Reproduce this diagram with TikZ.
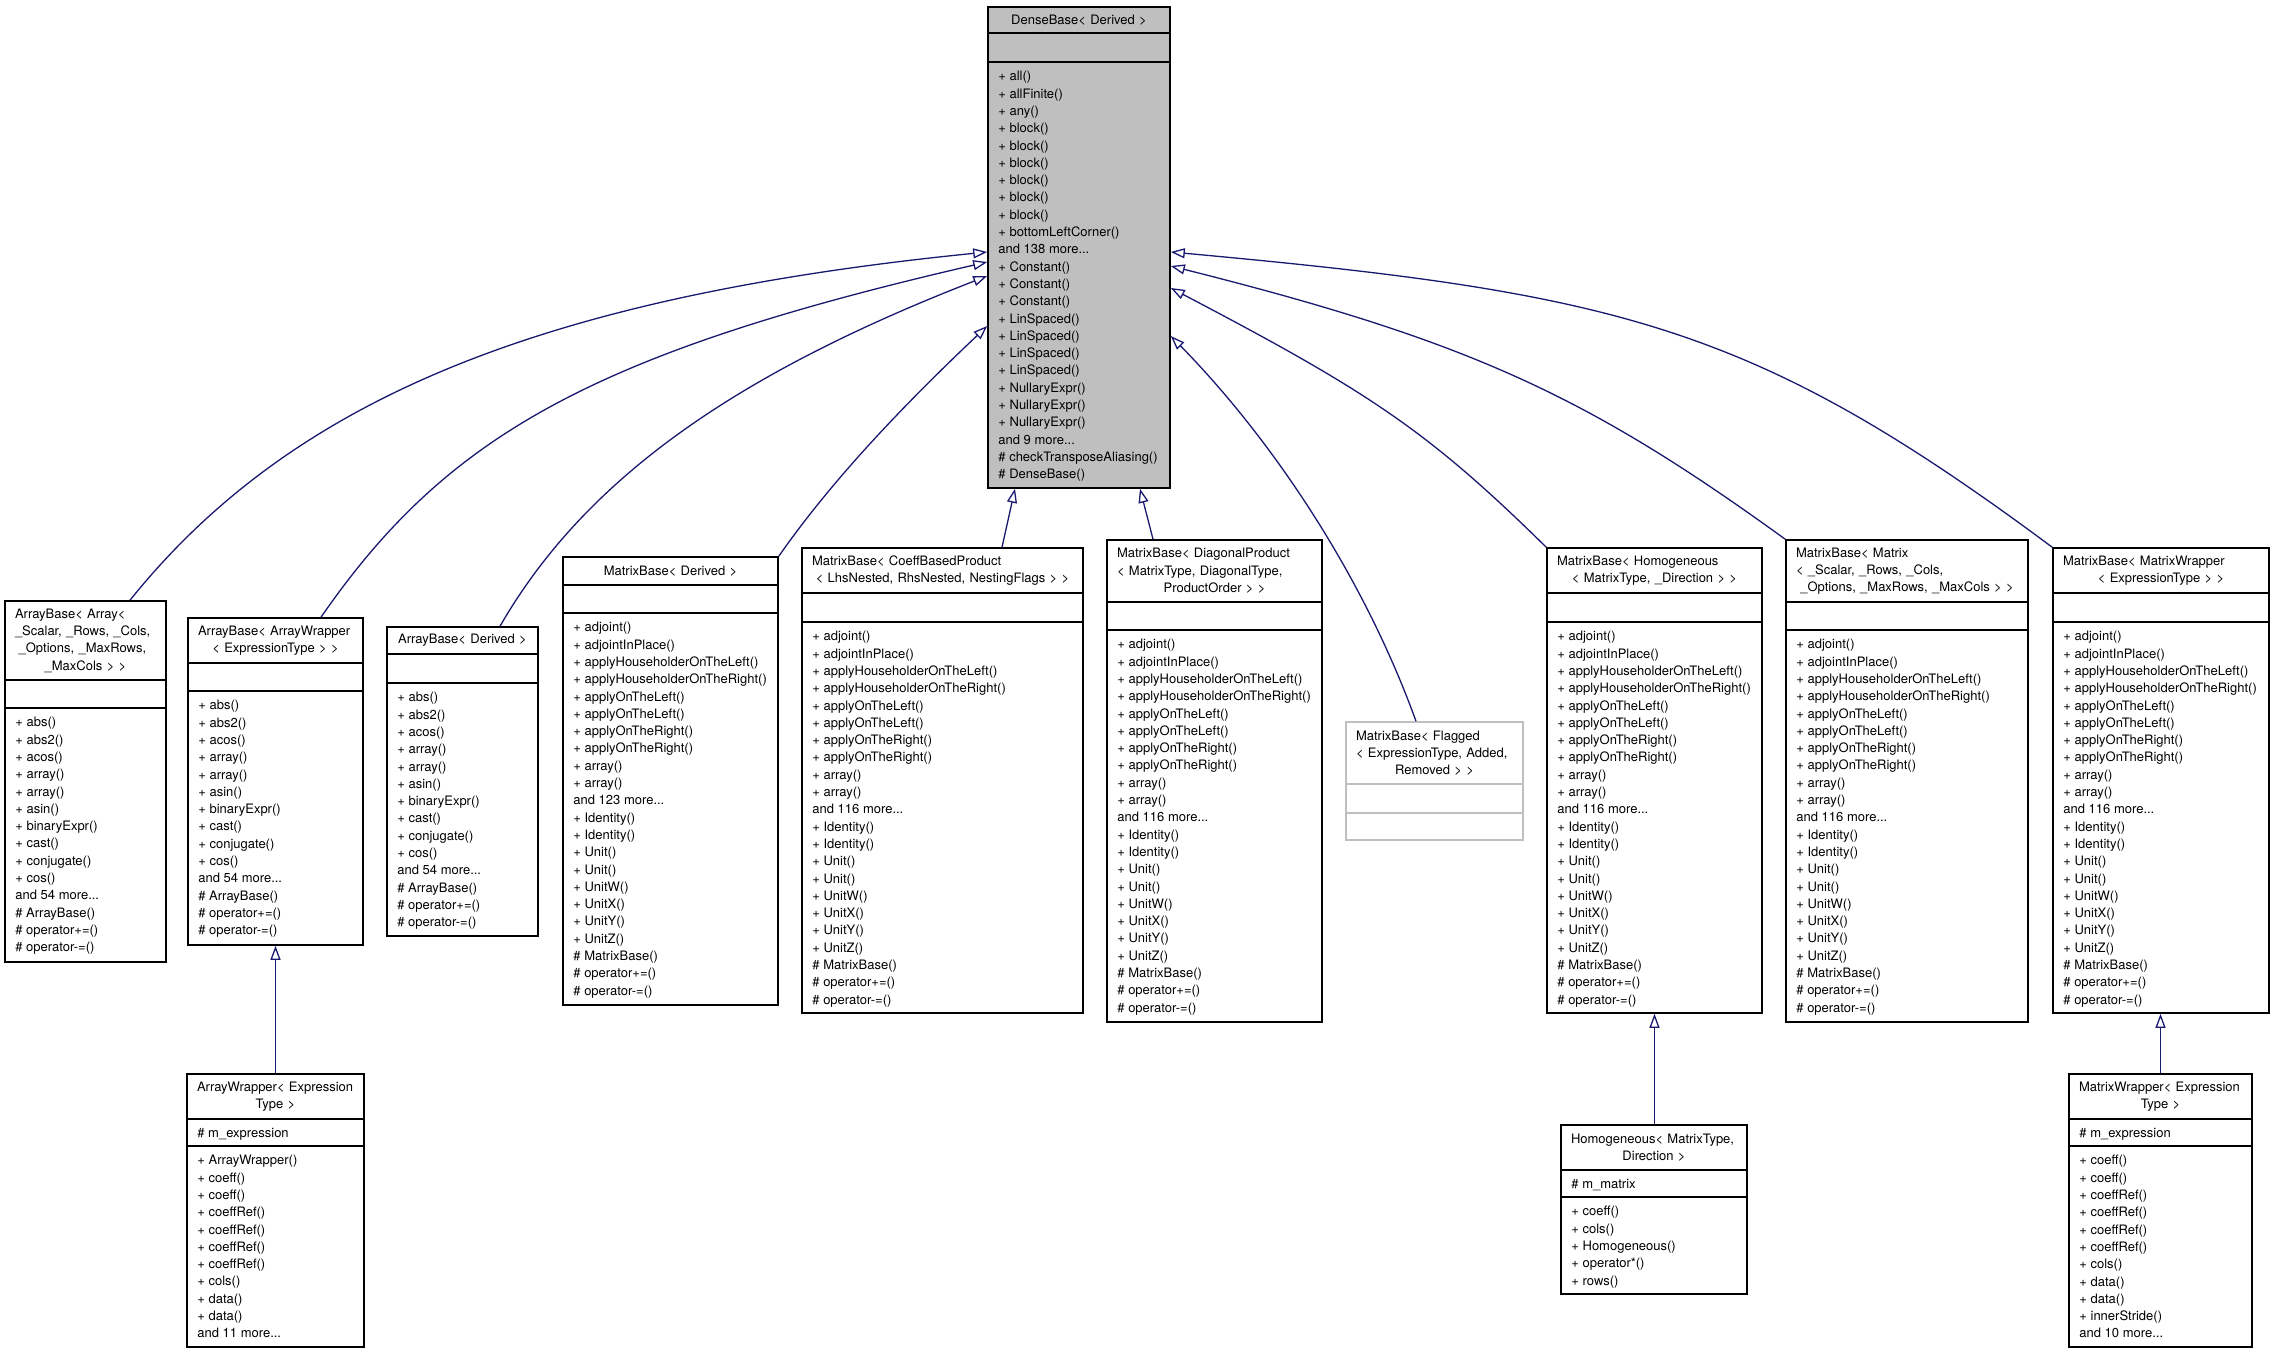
\documentclass[tikz,border=0pt]{standalone}
\usepackage{fontspec}
\setmainfont{TeX Gyre Heros}
\usetikzlibrary{fit,arrows.meta}
\definecolor{edgeblue}{HTML}{191970}
\definecolor{boxgray}{HTML}{BFBFBF}
\newcommand\ctrline[1]{\hspace*{\fill}\mbox{#1}\hspace*{\fill}\null}
\newcommand\arraymembers{+ abs()\\+ abs2()\\+ acos()\\+ array()\\+ array()\\+ asin()\\+ binaryExpr()\\+ cast()\\+ conjugate()\\+ cos()\\and 54 more...\\\# ArrayBase()\\\# operator+=()\\\# operator-=()}
\newcommand\matrixmembers[1]{+ adjoint()\\+ adjointInPlace()\\+ applyHouseholderOnTheLeft()\\+ applyHouseholderOnTheRight()\\+ applyOnTheLeft()\\+ applyOnTheLeft()\\+ applyOnTheRight()\\+ applyOnTheRight()\\+ array()\\+ array()\\and #1 more...\\+ Identity()\\+ Identity()\\+ Unit()\\+ Unit()\\+ UnitW()\\+ UnitX()\\+ UnitY()\\+ UnitZ()\\\# MatrixBase()\\\# operator+=()\\\# operator-=()}
\tikzset{
  cls/.style={},
  frame/.style={draw=black, line width=0.8pt, inner sep=0pt, rectangle},
  divider/.style={draw=black, line width=0.8pt},
  txt/.style={inner sep=0pt, font=\fontsize{6.5pt}{8.65pt}\selectfont},
  ttl/.style={txt, align=left, anchor=center},
  mem/.style={txt, align=left, anchor=north west},
  inh/.style={draw=edgeblue, line width=0.65pt, -{Triangle[open, length=7pt, width=5pt, fill=white]}}
}
% #1 name, #2 left, #3 right, #4 top, #5 div1, #6 div2, #7 bottom, #8 title, #9 members
\newcommand\umlclass[9]{%
  \node[frame, cls, fit={(#2,#4)(#3,#7)}] (#1) {};
  \draw[divider, cls] (#2,#5) -- (#3,#5);
  \draw[divider, cls] (#2,#6) -- (#3,#6);
  \pgfmathsetmacro\tw{(#3-#2-20)*0.5}%
  \node[ttl, text width=\tw pt] (#1-t) at ({(#2+#3)/2},{(#4+#5)/2}) {#8};
  \node[mem] (#1-m) at ({#2+10},{#6+9}) {\vphantom{()}#9};
}
\begin{document}
\begin{tikzpicture}[x=0.5pt,y=-0.5pt]
\fill[white] (0,0) rectangle (2275,1355);
\useasboundingbox (0,0) rectangle (2275,1355);

\tikzset{cls/.style={fill=boxgray}}
\umlclass{dense}{988}{1170}{7}{33}{62}{488}{\ctrline{DenseBase< Derived >}}%
{+ all()\\+ allFinite()\\+ any()\\+ block()\\+ block()\\+ block()\\+ block()\\+ block()\\+ block()\\+ bottomLeftCorner()\\and 138 more...\\+ Constant()\\+ Constant()\\+ Constant()\\+ LinSpaced()\\+ LinSpaced()\\+ LinSpaced()\\+ LinSpaced()\\+ NullaryExpr()\\+ NullaryExpr()\\+ NullaryExpr()\\and 9 more...\\\# checkTransposeAliasing()\\\# DenseBase()}
\tikzset{cls/.style={}}

\umlclass{aba}{5}{166}{601}{680}{708}{962}{ArrayBase< Array<\\\_Scalar, \_Rows, \_Cols,\\\hspace*{.28em}\_Options, \_MaxRows,\\\ctrline{\_MaxCols > >}}{\arraymembers}
\umlclass{abw}{188}{363}{618}{663}{691}{945}{ArrayBase< ArrayWrapper\\\ctrline{< ExpressionType > >}}{\arraymembers}
\umlclass{abd}{387}{538}{627}{654}{683}{936}{\ctrline{ArrayBase< Derived >}}{\arraymembers}
\umlclass{mbd}{563}{778}{557}{585}{613}{1005}{\ctrline{MatrixBase< Derived >}}{\matrixmembers{123}}
\umlclass{mbc}{802}{1083}{548}{593}{622}{1013}{MatrixBase< CoeffBasedProduct\\\ctrline{< LhsNested, RhsNested, NestingFlags > >}}{\matrixmembers{116}}
\umlclass{mbdp}{1107}{1322}{540}{602}{630}{1022}{MatrixBase< DiagonalProduct\\< MatrixType, DiagonalType,\\\ctrline{ProductOrder > >}}{\matrixmembers{116}}
\tikzset{cls/.style={draw=boxgray}}
\umlclass{mbf}{1346}{1523}{722}{784}{813}{840}{MatrixBase< Flagged\\< ExpressionType, Added,\\\ctrline{Removed > >}}{}
\tikzset{cls/.style={}}
\umlclass{mbh}{1547}{1762}{548}{593}{622}{1013}{MatrixBase< Homogeneous\\\ctrline{< MatrixType, \_Direction > >}}{\matrixmembers{116}}
\umlclass{mbm}{1786}{2028}{540}{602}{630}{1022}{MatrixBase< Matrix\\< \_Scalar, \_Rows, \_Cols,\\\ctrline{\_Options, \_MaxRows, \_MaxCols > >}}{\matrixmembers{116}}
\umlclass{mbw}{2053}{2269}{548}{593}{622}{1013}{MatrixBase< MatrixWrapper\\\ctrline{< ExpressionType > >}}{\matrixmembers{116}}

\umlclass{aw}{187}{364}{1074}{1119}{1146}{1347}{ArrayWrapper< Expression\\\ctrline{Type >}}%
{+ ArrayWrapper()\\+ coeff()\\+ coeff()\\+ coeffRef()\\+ coeffRef()\\+ coeffRef()\\+ coeffRef()\\+ cols()\\+ data()\\+ data()\\and 11 more...}
\node[mem] (aw-a) at (197,1127.5) {\vphantom{()}\# m\_expression};
\umlclass{hom}{1561}{1747}{1125}{1170}{1197}{1294}{Homogeneous< MatrixType,\\\ctrline{Direction >}}%
{+ coeff()\\+ cols()\\+ Homogeneous()\\+ operator*()\\+ rows()}
\node[mem] (hom-a) at (1571,1178.5) {\vphantom{()}\# m\_matrix};
\umlclass{mw}{2069}{2252}{1074}{1119}{1146}{1347}{MatrixWrapper< Expression\\\ctrline{Type >}}%
{+ coeff()\\+ coeff()\\+ coeffRef()\\+ coeffRef()\\+ coeffRef()\\+ coeffRef()\\+ cols()\\+ data()\\+ data()\\+ innerStride()\\and 10 more...}
\node[mem] (mw-a) at (2079,1127.5) {\vphantom{()}\# m\_expression};

% inheritance connectors
\draw[inh] (aba.north -| 130,0) .. controls (290,401) and (538,297) .. (dense.west |- 0,252);
\draw[inh] (abw.north -| 321,0) .. controls (445,438) and (588,354) .. (dense.west |- 0,262);
\draw[inh] (abd.north -| 500,0) .. controls (586,477) and (738,373) .. (dense.west |- 0,276);
\draw[inh] (mbd.north east) .. controls (834,477) and (908,401) .. (dense.west |- 0,326);
\draw[inh] (mbc.north -| 1002,0) -- (dense.south -| 1015,0);
\draw[inh] (mbdp.north -| 1153,0) -- (dense.south -| 1140,0);
\draw[inh] (mbf.north -| 1416,0) .. controls (1362,572) and (1269,436) .. (dense.east |- 0,336);
\draw[inh] (mbh.north west) .. controls (1427,430) and (1369,392) .. (dense.east |- 0,288);
\draw[inh] (mbm.north west) .. controls (1586,395) and (1469,341) .. (dense.east |- 0,266);
\draw[inh] (mbw.north west) .. controls (1753,325) and (1619,293) .. (dense.east |- 0,252);
\draw[inh] (aw.north) -- (abw.south);
\draw[inh] ([xshift=0.25pt]hom.north) -- ([xshift=0.25pt]hom.north |- mbh.south);
\draw[inh] (mw.north) -- (mw.north |- mbw.south);
\end{tikzpicture}
\end{document}
